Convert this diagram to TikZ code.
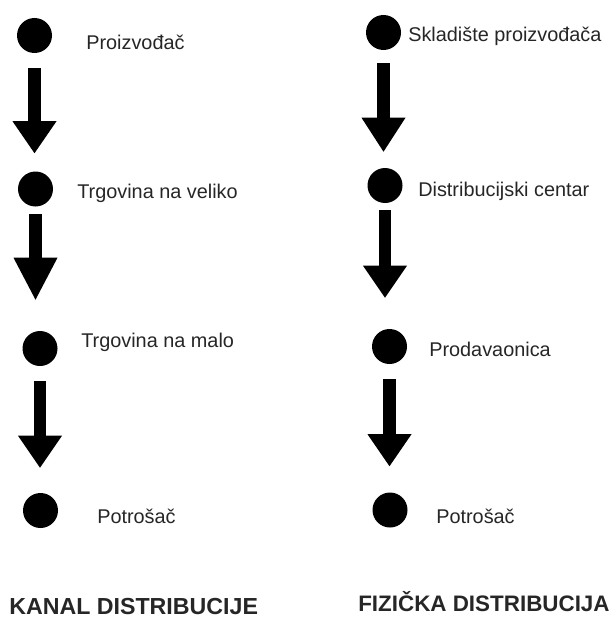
\documentclass[tikz,border=0pt]{standalone}
\usepackage{fontspec}
\setmainfont{Liberation Sans}
\usepackage{tikz}
\usetikzlibrary{arrows.meta}

\begin{document}
\begin{tikzpicture}[x=0.75pt,y=-0.75pt]
	  \tikzstyle{dot}=[circle,fill=black,inner sep=0pt,minimum size=26.25pt]
	  \tikzstyle{label}=[anchor=base west,inner sep=0pt,text=black!85,font=\fontsize{14.9}{17}\selectfont]
	  \tikzstyle{title}=[anchor=base west,inner sep=0pt,text=black!85,font=\fontsize{16.8}{20}\selectfont\bfseries]
	  \tikzstyle{flow}=[line width=9.4pt,-{Triangle[width=33pt,length=24pt,line width=0pt]}]

	\useasboundingbox (0,0) rectangle (610,617);

	% kanal distribucije
	\node (left_1)[dot] at (34.5,35.5) {};
	\node (left_2)[dot] at (35.5,189) {};
	\node (left_3)[dot] at (40,348.5) {};
	\node (left_4)[dot] at (40.5,510.5) {};
	\node (left_1_text)[label] at (86,50) {Proizvođač};
	\node (left_2_text)[label] at (77,198) {Trgovina na veliko};
	\node (left_3_text)[label] at (81,347) {Trgovina na malo};
	\node (left_4_text)[label] at (97,523) {Potrošač};
	\node (left_title)[title,font=\fontsize{17.4}{20}\selectfont\bfseries] at (9,614.5) {KANAL DISTRIBUCIJE};

	% fizicka distribucija
	\node (right_1)[dot] at (383.5,32.5) {};
	\node (right_2)[dot] at (385,185.5) {};
	\node (right_3)[dot] at (389.5,346.5) {};
	\node (right_4)[dot] at (390,510) {};
	\node (right_1_text)[label] at (408,42) {Skladište proizvođača};
	\node (right_2_text)[label] at (418,196) {Distribucijski centar};
	\node (right_3_text)[label] at (429,356) {Prodavaonica};
	\node (right_4_text)[label] at (436,523) {Potrošač};
	\node (right_title)[title] at (358,611.5) {FIZIČKA DISTRIBUCIJA};

	\draw[flow,shorten <=11.25pt,shorten >=13.5pt] (left_1.south) -- (left_1.south |- left_2.north);
	\draw[flow,shorten <=5.25pt,shorten >=23.25pt,-{Triangle[width=33pt,length=31.5pt,line width=0pt]}] (left_2.south) -- (left_2.south |- left_3.north);
	\draw[flow,shorten <=11.25pt,shorten >=18.75pt] (left_3.south) -- (left_3.south |- left_4.north);

	\draw[flow,shorten <=9.75pt,shorten >=12pt,-{Triangle[width=33pt,length=25.5pt,line width=0pt]}] (right_1.south) -- (right_1.south |- right_2.north);
	\draw[flow,shorten <=5.25pt,shorten >=23.25pt] (right_2.south) -- (right_2.south |- right_3.north);
	\draw[flow,shorten <=11.25pt,shorten >=19.5pt] (right_3.south) -- (right_3.south |- right_4.north);

\end{tikzpicture}
\end{document}
